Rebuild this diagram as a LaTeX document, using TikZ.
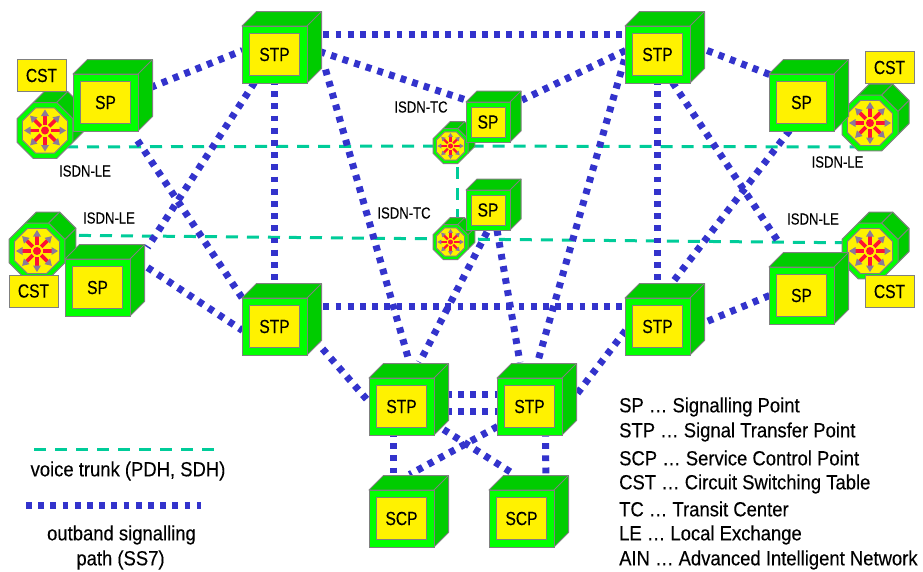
\documentclass[tikz,border=0pt]{standalone}
\usepackage{fontspec}
\setmainfont[FakeStretch=0.82,FakeBold=0.25]{Liberation Sans}
\newfontfamily\legfam[FakeStretch=0.9,FakeBold=0.25]{Liberation Sans}
\usetikzlibrary{backgrounds}
\definecolor{sigblue}{HTML}{3333CC}
\definecolor{voiceteal}{HTML}{00CC99}
\definecolor{dkgreen}{HTML}{00CC00}
\definecolor{ltgreen}{HTML}{00FF00}
\definecolor{edgegray}{HTML}{808080}
\definecolor{starred}{HTML}{FF1133}
\definecolor{stargray}{HTML}{8A7A9A}
\tikzset{
  sig/.style={line width=7pt,draw=sigblue,dash pattern=on 5.8pt off 6.4pt},
  voice/.style={line width=3pt,draw=voiceteal,dash pattern=on 12pt off 9pt},
  dk/.style={fill=dkgreen,draw=edgegray,line width=1pt,line join=round},
  front/.style={fill=ltgreen,draw=edgegray,line width=1pt,inner sep=0pt,outer sep=0pt},
  inner/.style={fill=yellow,draw=edgegray,line width=1pt,inner sep=0pt,outer sep=0pt,text=black,font=\fontsize{19}{19}\selectfont},
  lab/.style={inner sep=0pt,text=black,font=\fontsize{16}{16}\selectfont},
  leg/.style={inner sep=0pt,text=black,font=\legfam\fontsize{20.5}{20.5}\selectfont},
}
\newcommand\lnk[5]{\draw[#1] ([shift={(#3)}]#2.center) -- ([shift={(#5)}]#4.center);}
% name x y w h d inset label
\newcommand\cubeshape[8]{%
  \draw[dk] (#2,#3) -- ++(#6,-#6) -- ++(#4,0) -- ++(0,#5) -- ++(-#6,#6) -- (#2+#4,#3) -- cycle;
  \draw[dk] (#2+#4,#3) -- ++(#6,-#6);
  \node[front,minimum width=#4pt,minimum height=#5pt] (#1) at (#2+#4/2,#3+#5/2) {};
  \node[inner,minimum width=#4pt-2*#7pt,minimum height=#5pt-2*#7pt] (#1-in) at (#1.center) {#8};
}
\newcommand\bigcube[4]{\cubeshape{#1}{#2}{#3}{65}{57}{14.5}{7.5}{#4}}
\newcommand\smallcube[4]{\cubeshape{#1}{#2}{#3}{44}{40}{11}{5}{#4}}
\newcommand\octpath[1]{(22.5:#1) -- (67.5:#1) -- (112.5:#1) -- (157.5:#1) -- (202.5:#1) -- (247.5:#1) -- (292.5:#1) -- (337.5:#1) -- cycle}
% name cx cy halfwidth
\newcommand\octa[4]{%
  \coordinate (#1) at (#2,#3);
  \begin{scope}[shift={(#2,#3)},scale=#4/28]
    \draw[dk] (-112.5:30.3) -- ++(11,-11) -- ([shift={(11,-11)}]-67.5:30.3) -- ([shift={(11,-11)}]-22.5:30.3) -- ([shift={(11,-11)}]22.5:30.3) -- (22.5:30.3) -- cycle;
    \draw[edgegray,line width=1pt] (-67.5:30.3) -- ++(11,-11) (-22.5:30.3) -- ++(11,-11);
    \draw[fill=ltgreen,draw=edgegray,line width=1pt] \octpath{30.3};
    \draw[fill=yellow,draw=edgegray,line width=1pt] \octpath{24.6};
    \foreach \an in {0,45,...,315}{
      \begin{scope}[rotate=\an]
        \draw[starred,line width={#4/28*3.6pt}] (6,0) -- (15,0);
        \fill[stargray] (14.5,-4) -- (21,0) -- (14.5,4) -- cycle;
      \end{scope}
    }
    \fill[starred] (0,0) circle (4);
  \end{scope}
}
\begin{document}
\begin{tikzpicture}[x=1pt,y=-1pt]
\useasboundingbox (0,0) rectangle (923,571);
% switches
\octa{oa}{45}{130.5}{28}
\octa{ob}{37}{251}{28}
\octa{oc}{450.5}{146}{17.5}
\octa{od}{450.5}{242}{17.5}
\octa{oe}{870}{123}{28}
\octa{of}{870}{251}{28}
% cubes
\bigcube{spa}{73}{74}{SP}
\bigcube{spb}{65}{259}{SP}
\bigcube{stpa}{242}{26}{STP}
\bigcube{stpb}{242}{298}{STP}
\bigcube{stpc}{625}{26}{STP}
\bigcube{stpd}{625}{298}{STP}
\bigcube{spe}{769}{74}{SP}
\bigcube{spf}{769}{267}{SP}
\bigcube{stpe}{369}{378}{STP}
\bigcube{stpf}{497}{378}{STP}
\bigcube{scpa}{369}{490}{SCP}
\bigcube{scpb}{489}{490}{SCP}
\smallcube{spc}{466}{102}{SP}
\smallcube{spd}{466}{190}{SP}
% CST tables
\tikzset{cst/.style={inner,minimum width=49pt,minimum height=32pt}}
\node[cst] (csta) at (41.5,75.5) {CST};
\node[cst] (cstb) at (33.5,291) {CST};
\node[cst] (cstc) at (889.5,67.5) {CST};
\node[cst] (cstd) at (889.5,291.5) {CST};
% connectors
\begin{scope}[on background layer]
\lnk{voice}{oa}{0,16.5}{oc}{0,0}
\lnk{voice}{oc}{0,0}{oe}{0,24}
\lnk{voice}{oc}{7,0}{od}{7,0}
\lnk{voice}{ob}{0,-16}{of}{0,-8}
\lnk{sig}{spa}{45,-15}{stpa}{-32,-4}
\lnk{sig}{spa}{32,38}{stpb}{-30,-25}
\lnk{sig}{stpa}{-20,28}{spb}{50,-40}
\lnk{sig}{stpa}{0,0}{stpb}{0,0}
\lnk{sig}{stpa}{0,-20}{stpc}{0,-20}
\lnk{sig}{stpa}{45,-3}{spc}{-22,-22}
\lnk{sig}{stpa}{51,15}{stpe}{8,-44}
\lnk{sig}{stpc}{-32,-4}{spc}{34,-22}
\lnk{sig}{stpc}{0,0}{stpd}{0,0}
\lnk{sig}{stpc}{15,28}{spf}{-22,-52}
\lnk{sig}{stpc}{-33,5}{stpf}{8,-44}
\lnk{sig}{spe}{-12,28}{stpd}{15,-44}
\lnk{sig}{spe}{-32,-28}{stpc}{47,-5}
\lnk{sig}{spf}{-32,0}{stpd}{47,-4}
\lnk{sig}{stpd}{-32,4}{stpf}{47,-12}
\lnk{sig}{stpb}{0,-20}{stpd}{0,-20}
\lnk{sig}{stpb}{32,4}{stpe}{-32,-4}
\lnk{sig}{spb}{50,-20}{stpb}{-32,4}
\lnk{sig}{spd}{-1,22}{stpe}{18,-44}
\lnk{sig}{spd}{9,20}{stpf}{-9.5,-44}
\lnk{sig}{stpe}{32,-12}{stpf}{-32,-12}
\lnk{sig}{stpe}{32,4.5}{stpf}{-32,4.5}
\lnk{sig}{stpe}{-8,0}{scpa}{-8,0}
\lnk{sig}{stpf}{16,0}{scpb}{24.5,0}
\lnk{sig}{stpe}{42,23}{scpb}{-7,-44}
\lnk{sig}{stpf}{-32,20}{scpa}{8,-44}
\end{scope}
% labels
\node[lab] (la) at (85,171) {ISDN-LE};
\node[lab] (lb) at (109,218) {ISDN-LE};
\node[lab] (lc) at (421,107) {ISDN-TC};
\node[lab] (ld) at (404,213) {ISDN-TC};
\node[lab] (le) at (837.5,162) {ISDN-LE};
\node[lab] (lf) at (813,219) {ISDN-LE};
% legend
\coordinate (va) at (34,449); \coordinate (vb) at (215,449);
\coordinate (sa) at (26,505); \coordinate (sb) at (201,505);
\draw[voice] (va) -- (vb);
\draw[sig] (sa) -- (sb);
\node[leg] (t1) at (128,471) {voice trunk (PDH, SDH)};
\node[leg] (t2) at (121.5,535) {outband signalling};
\node[leg] (t3) at (120.5,560) {path (SS7)};
\node[leg,anchor=west] (k1) at (619,407) {SP … Signalling Point};
\node[leg,anchor=west] (k2) at (619,432) {STP … Signal Transfer Point};
\node[leg,anchor=west] (k3) at (619,458) {SCP … Service Control Point};
\node[leg,anchor=west] (k4) at (619,484) {CST … Circuit Switching Table};
\node[leg,anchor=west] (k5) at (619,509) {TC … Transit Center};
\node[leg,anchor=west] (k6) at (619,535) {LE … Local Exchange};
\node[leg,anchor=west] (k7) at (619,560) {AIN … Advanced Intelligent Network};
\end{tikzpicture}
\end{document}
